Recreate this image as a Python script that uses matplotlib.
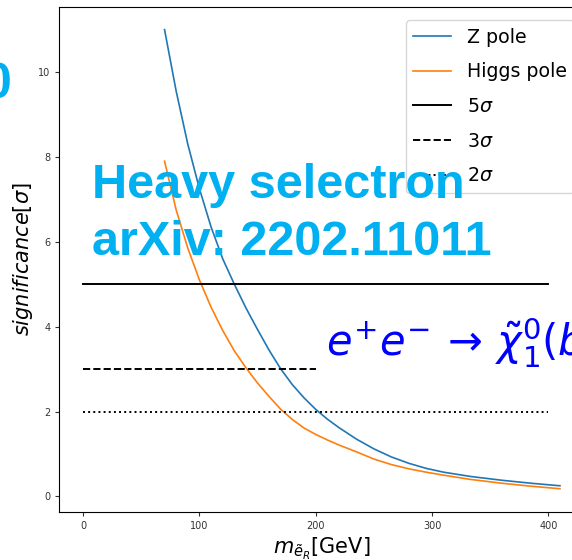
import numpy as np
import matplotlib
matplotlib.use("Agg")
import matplotlib.pyplot as plt

# selectron mass grid [GeV] and significance
mass = [70, 80, 90, 100, 110, 120, 130, 140, 150, 160, 170, 180, 190,
        200, 210, 220, 235, 250, 265, 280, 295, 310, 333, 360, 385, 410]
z_pole = [11.0, 9.55, 8.3, 7.25, 6.35, 5.6, 5.0, 4.44, 3.93, 3.44, 3.0, 2.63, 2.32,
          2.05, 1.82, 1.62, 1.35, 1.12, 0.93, 0.78, 0.66, 0.57, 0.47, 0.38, 0.31, 0.25]
higgs_pole = [7.9, 6.75, 5.85, 5.1, 4.46, 3.91, 3.43, 3.03, 2.67, 2.35, 2.05, 1.81, 1.61,
              1.46, 1.33, 1.21, 1.05, 0.88, 0.75, 0.65, 0.57, 0.5, 0.4, 0.31, 0.24, 0.18]

# significance thresholds: level, end of the line, linestyle, label
levels = [5, 3, 2]
level_ends = [400, 200, 400]
level_styles = ['-', '--', ':']
level_labels = [r'$5\sigma$', r'$3\sigma$', r'$2\sigma$']

fig = plt.figure(figsize=(5.72, 5.6), dpi=100)
# axes runs past the right edge, as in the cropped screenshot
ax = fig.add_axes([59.3 / 572, 48.3 / 560, 524.5 / 572, 505 / 560])

ax.plot(mass, z_pole, color='#1f77b4', lw=1.2, label='Z pole')
ax.plot(mass, higgs_pole, color='#ff7f0e', lw=1.2, label='Higgs pole')
for lev, end, ls, lab in zip(levels, level_ends, level_styles, level_labels):
    ax.plot([0, end], [lev, lev], color='black', ls=ls, lw=1.4, label=lab)

ax.set_xticks([0, 100, 200, 300, 400])
ax.set_yticks([0, 2, 4, 6, 8, 10])
ax.tick_params(labelsize=7, colors='#333333', length=3)
ax.set_xlabel(r'$m_{\tilde{e}_R}$[GeV]', fontsize=15, labelpad=4)
ax.set_ylabel(r'$significance[\sigma]$', fontsize=15, labelpad=2)
ax.legend(loc='upper right', bbox_to_anchor=(1, 1 - 4 / 505), fontsize=13.7,
          handlelength=2.0, labelspacing=0.82)

# slide overlay texts
cyan = '#00b0f0'
fig.text(12 / 572, 1 - 98 / 560, '0', color=cyan, fontsize=36,
         fontweight='bold', family='Liberation Sans', ha='right', va='baseline')
fig.text(92 / 572, 1 - 198 / 560, 'Heavy selectron', color=cyan, fontsize=35,
         fontweight='bold', family='Liberation Sans', va='baseline')
fig.text(92 / 572, 1 - 255 / 560, 'arXiv: 2202.11011', color=cyan, fontsize=35,
         fontweight='bold', family='Liberation Sans', va='baseline')
fig.text(326 / 572, 1 - 357 / 560, r'$e^{+}e^{-}\,\rightarrow\,\tilde{\chi}_1^0(b$',
         color='#0000ff', fontsize=30, va='baseline')

fig.savefig('out.png', dpi=100)
